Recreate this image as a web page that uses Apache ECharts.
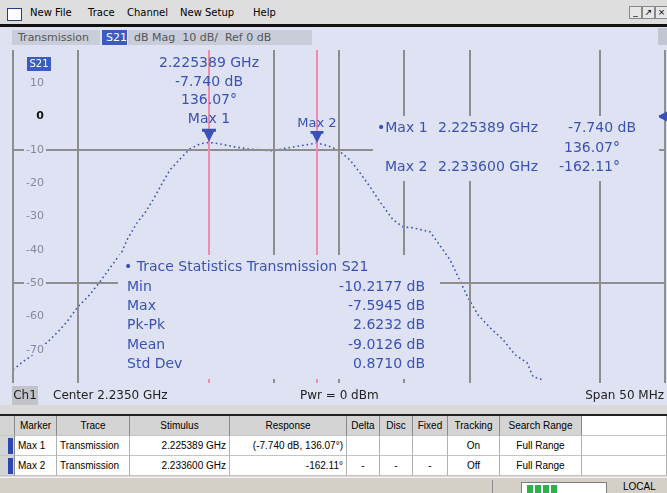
<!DOCTYPE html>
<html>
<head>
<meta charset="utf-8">
<script src="https://cdn.jsdelivr.net/npm/echarts@6/dist/echarts.min.js"></script>
<style>
  body { margin: 0; }
  #app { position: relative; width: 667px; height: 493px; overflow: hidden; background: #d6d6d6; font-family: "DejaVu Sans", sans-serif; }
  #chart { position: absolute; left: 0; top: 0; width: 667px; height: 493px; }
  #menubar { position: absolute; left: 0; top: 0; width: 667px; height: 24px; background: #dedede; border-bottom: 3px solid #111; font-size: 10px; color: #000; }
  #menubar span { position: absolute; top: 7px; }
  #menubar .icon { left: 7px; top: 8px; width: 13px; height: 11px; background: #fff; border: 1px solid #2a3a8a; }
  #menubar .btn { top: 6px; width: 11px; height: 11px; border: 1px solid #888; background: #e6e6e6; font-size: 9px; line-height: 11px; text-align: center; }
  #tabs span { position: absolute; top: 30px; height: 15px; line-height: 15px; font-size: 11px; color: #555; padding-left: 6px; box-sizing: border-box; }
  #tblzone { position: absolute; left: 0; top: 405px; width: 667px; height: 72px; background: #dadada; }
  #tblzone .topline { position: absolute; left: 0; top: 9px; width: 667px; height: 2px; background: #222; }
  .c { position: absolute; height: 20px; line-height: 20px; font-family: "Liberation Sans", sans-serif; font-size: 10px; color: #000; box-sizing: border-box; padding: 0 3px; white-space: nowrap; overflow: hidden; border-right: 1px solid #b0b0b0; border-bottom: 1px solid #c4c4c4; }
  .h { background: #d4d4d4; border-right: 1px solid #8a8a8a; }
  .r { background: #fff; }
  #status { position: absolute; left: 0; top: 477px; width: 667px; height: 16px; background: #d4d0c8; border-top: 1px solid #f4f4f4; }
</style>
</head>
<body>
<div id="app">
  <div id="chart"></div>
  <div id="menubar">
    <span class="icon"></span>
    <span style="left:30px">New File</span>
    <span style="left:88px">Trace</span>
    <span style="left:127px">Channel</span>
    <span style="left:180px">New Setup</span>
    <span style="left:253px">Help</span>
    <span class="btn" style="left:629px">_</span>
    <span class="btn" style="left:642px">&#8599;</span>
    <span class="btn" style="left:655px">&#215;</span>
  </div>
  <div id="tabs">
    <span style="left:12px;width:88px;background:#c9ccd9">Transmission</span>
    <span style="left:102px;width:25px;background:#3b5bc2;color:#fff;padding-left:4px">S21</span>
    <span style="left:128px;width:184px;background:#c9ccd9">dB Mag&nbsp; 10 dB/&nbsp; Ref 0 dB</span>
    <span style="left:658px;width:9px;top:28px;height:17px;background:#c3c6d2"></span>
  </div>
  <div id="tblzone"><div class="topline"></div></div>
  <div id="status">
    <div style="position:absolute;left:492px;top:2px;width:1px;height:14px;background:#888"></div>
    <div style="position:absolute;left:521px;top:4px;width:86px;height:12px;background:#fff;border:1px solid #808080;box-sizing:border-box"></div>
    <div style="position:absolute;left:527px;top:7px;width:32px;height:9px;background:repeating-linear-gradient(90deg,#2fb04a 0 6px,#fff 6px 8px)"></div>
    <div style="position:absolute;left:623px;top:3px;font-size:10px;font-family:'Liberation Sans',sans-serif">LOCAL</div>
  </div>
</div>

<script>
  // trace (GHz, dB)
  var freqGHz = [2.2100, 2.21077, 2.21153, 2.21284, 2.21360, 2.21414, 2.21498, 2.21575, 2.21667, 2.21744,
    2.21836, 2.21874, 2.21951, 2.22012, 2.22074, 2.22150, 2.22204, 2.22296, 2.22357, 2.22434,
    2.22503, 2.22587, 2.22702, 2.22802, 2.22894, 2.22994, 2.23101, 2.23201, 2.23331, 2.23416,
    2.23492, 2.23584, 2.23661, 2.23738, 2.23814, 2.23914, 2.23991, 2.24067, 2.24198, 2.24259,
    2.24351, 2.24413, 2.24489, 2.24566, 2.24658, 2.24758, 2.24850, 2.24942, 2.24988, 2.25057]
  var s21dB = [-76.0, -73.6, -71.5, -67.0, -64.0, -61.6, -57.1, -54.1, -49.6, -45.4,
    -40.6, -37.0, -31.9, -28.9, -25.0, -19.6, -16.0, -12.1, -9.7, -8.2,
    -7.74, -8.2, -9.1, -9.7, -10.0, -10.3, -9.4, -8.8, -7.9, -8.8,
    -10.0, -13.0, -16.9, -21.1, -25.6, -31.0, -33.1, -33.4, -34.6, -37.9,
    -43.0, -48.1, -54.4, -59.5, -63.4, -67.0, -71.5, -73.9, -78.1, -79.0]

  var markerFreq = [2.22503, 2.23331]
  var markerDb = [-7.74, -7.9]
  var refLevel = 0
  // only the grid lines that show in the screenshot
  var gridFreq = [2.210, 2.215, 2.230, 2.235, 2.240, 2.245, 2.255, 2.260]
  var gridDb = [-10, -50]

  var m1Label = ['2.225389 GHz', '-7.740 dB', '136.07°', 'Max 1']
  var statNames = ['Min', 'Max', 'Pk-Pk', 'Mean', 'Std Dev']
  var statValues = ['-10.2177 dB', '-7.5945 dB', '2.6232 dB', '-9.0126 dB', '0.8710 dB']

  var tableCols = [15, 57, 130, 230, 347, 380, 413, 448, 500, 582]
  var tableAlign = ['left', 'left', 'right', 'right', 'center', 'center', 'center', 'center', 'center']
  var tableHeaders = ['Marker', 'Trace', 'Stimulus', 'Response', 'Delta', 'Disc', 'Fixed', 'Tracking', 'Search Range']
  var tableRows = [
    ['Max 1', 'Transmission', '2.225389 GHz', '(-7.740 dB, 136.07°)', '', '', '', 'On', 'Full Range'],
    ['Max 2', 'Transmission', '2.233600 GHz', '-162.11°', '-', '-', '-', 'Off', 'Full Range']
  ]

  var blue = '#3a52b6'
  var bg = '#dfe2f2'
  var font = '"DejaVu Sans", sans-serif'

  function txt(x, y, s, size, color, align) {
    return {
      type: 'text', z: 120,
      style: {
        text: s, x: x, y: y, fill: color || blue,
        font: (size || 14) + 'px ' + font,
        textAlign: align || 'left', textVerticalAlign: 'middle'
      }
    }
  }

  var graphics = []
  // boxes that hide grid behind readouts
  graphics.push({type: 'rect', z: 100, shape: {x: 118, y: 255, width: 322, height: 124}, style: {fill: bg}})
  graphics.push({type: 'rect', z: 100, shape: {x: 373, y: 116, width: 286, height: 65}, style: {fill: bg}})
  // S21 badge
  graphics.push({type: 'rect', z: 110, shape: {x: 27, y: 57, width: 24, height: 14}, style: {fill: '#3b5bc2'}})
  graphics.push(txt(39, 64, 'S21', 10, '#fff', 'center'))
  // marker 1 annotation
  m1Label.forEach(function (s, i) {
    graphics.push(txt(209, [63, 82, 100, 119][i], s, 14, blue, 'center'))
  })
  graphics.push(txt(317, 124, 'Max 2', 13, blue, 'center'))
  // marker readout
  graphics.push(txt(377, 128, '•Max 1', 14))
  graphics.push(txt(438, 128, '2.225389 GHz', 14))
  graphics.push(txt(636, 128, '-7.740 dB', 14, blue, 'right'))
  graphics.push(txt(620, 148, '136.07°', 14, blue, 'right'))
  graphics.push(txt(385, 167, 'Max 2', 14))
  graphics.push(txt(438, 167, '2.233600 GHz', 14))
  graphics.push(txt(620, 167, '-162.11°', 14, blue, 'right'))
  // trace statistics
  graphics.push(txt(124, 267, '• Trace Statistics Transmission S21', 14))
  statNames.forEach(function (s, i) {
    var y = 287 + i * 19.3
    graphics.push(txt(127, y, s, 14))
    graphics.push(txt(425, y, statValues[i], 14, blue, 'right'))
  })
  // channel bar
  graphics.push({type: 'rect', z: 110, shape: {x: 12, y: 386, width: 26, height: 19}, style: {fill: '#c2c3c8'}})
  graphics.push(txt(25, 396, 'Ch1', 12, '#222', 'center'))
  graphics.push(txt(53, 396, 'Center 2.2350 GHz', 12, '#222'))
  graphics.push(txt(300, 396, 'Pwr = 0 dBm', 12, '#222'))
  graphics.push(txt(664, 396, 'Span 50 MHz', 12, '#222', 'right'))

  var markerPath = 'path://M0,0 L14,0 L14,3 L12,3 L7,13 L2,3 L0,3 Z'

  var myChart = echarts.init(document.getElementById('chart'))
  myChart.setOption({
    animation: false,
    backgroundColor: bg,
    grid: {left: 13, right: 2, top: 50, bottom: 110},
    xAxis: {
      type: 'value', min: 2.210, max: 2.260,
      axisLine: {show: false}, axisTick: {show: false},
      axisLabel: {show: false}, splitLine: {show: false}
    },
    yAxis: {
      type: 'value', min: -80, max: 20, interval: 10,
      axisLine: {show: false}, axisTick: {show: false}, splitLine: {show: false},
      axisLabel: {
        inside: true, align: 'right', margin: 33,
        formatter: function (v) {
          if (v === 20 || v === -80) return ''
          if (v === 0) return '{k|0}'
          return '{g|' + v + '}'
        },
        rich: {
          g: {color: '#85889a', fontSize: 11, fontFamily: font, backgroundColor: bg, padding: [0, 2]},
          k: {color: '#111', fontSize: 11, fontWeight: 'bold', fontFamily: font, backgroundColor: bg, padding: [0, 2]}
        }
      },
      z: 5
    },
    graphic: graphics,
    series: [
      {
        type: 'line', data: [], z: 1, silent: true,
        markLine: {
          silent: true, symbol: 'none', label: {show: false}, precision: 6,
          lineStyle: {color: '#8e8e8e', width: 2, type: 'solid'},
          data: gridFreq.map(function (f) { return {xAxis: f} })
            .concat(gridDb.map(function (d) { return {yAxis: d} }))
        }
      },
      {
        type: 'line', z: 3, silent: true,
        data: freqGHz.map(function (f, i) { return [f, s21dB[i]] }),
        showSymbol: false,
        lineStyle: {color: blue, width: 1.6, type: [1.6, 3]},
        markLine: {
          silent: true, symbol: 'none', label: {show: false}, precision: 6,
          lineStyle: {color: '#f08cab', width: 2, type: 'solid'},
          data: markerFreq.map(function (f) { return {xAxis: f} })
        },
        markPoint: {
          silent: true, label: {show: false}, itemStyle: {color: blue},
          data: [
            {coord: [markerFreq[0], markerDb[0]], symbol: markerPath, symbolSize: [14, 13], symbolOffset: [0, -7]},
            {coord: [markerFreq[1], markerDb[1]], symbol: markerPath, symbolSize: [13, 12], symbolOffset: [0, -6]},
            {coord: [2.260, refLevel], symbol: 'triangle', symbolRotate: 90, symbolSize: [10, 10], symbolOffset: [-3, 0]}
          ]
        }
      }
    ]
  })

  // marker table
  var zone = document.getElementById('tblzone')
  function addCell(x, y, w, text, cls, align) {
    var d = document.createElement('div')
    d.className = 'c ' + cls
    d.style.left = x + 'px'
    d.style.top = y + 'px'
    d.style.width = w + 'px'
    d.style.textAlign = align
    d.textContent = text
    zone.appendChild(d)
  }
  addCell(0, 11, 15, '', 'h', 'left')
  tableHeaders.forEach(function (h, i) {
    addCell(tableCols[i], 11, tableCols[i + 1] - tableCols[i], h, 'h', 'center')
  })
  addCell(582, 11, 85, '', 'r', 'left')
  tableRows.forEach(function (row, r) {
    var y = 31 + r * 20
    addCell(0, y, 15, '', 'h', 'left')
    var bar = document.createElement('div')
    bar.style.cssText = 'position:absolute;left:8px;width:5px;height:16px;background:#2c46b0;top:' + (y + 2) + 'px'
    zone.appendChild(bar)
    row.forEach(function (v, i) {
      addCell(tableCols[i], y, tableCols[i + 1] - tableCols[i], v, 'r', tableAlign[i])
    })
    addCell(582, y, 85, '', 'r', 'left')
  })
</script>
</body>
</html>
